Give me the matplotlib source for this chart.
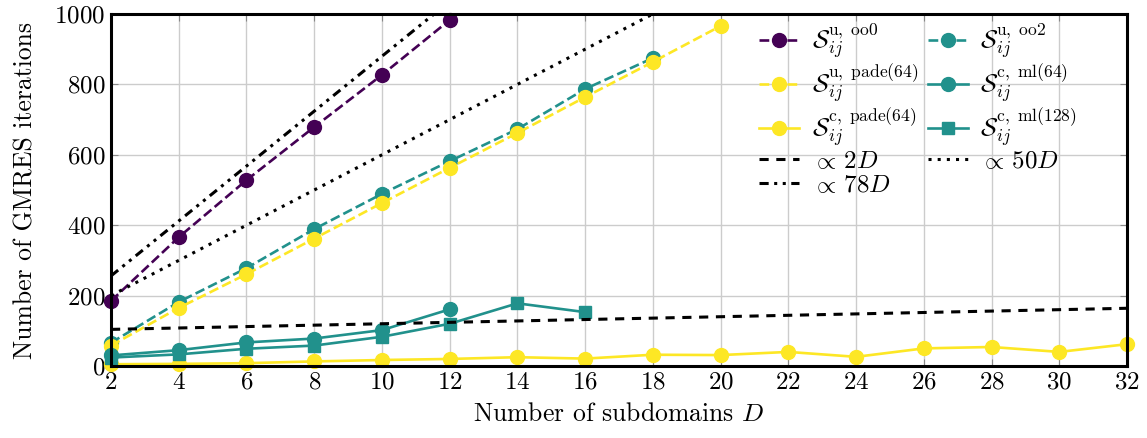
import matplotlib
matplotlib.use("Agg")
import matplotlib.pyplot as plt
import numpy as np

plt.rcParams["font.family"] = "serif"
plt.rcParams["font.serif"] = ["cmr10"]
plt.rcParams["mathtext.fontset"] = "cm"
plt.rcParams["axes.formatter.use_mathtext"] = True

VIRIDIS_0 = "#440154"
VIRIDIS_1 = "#21918c"
VIRIDIS_2 = "#fde725"

# GMRES iteration counts per number of subdomains
d_oo0 = [2, 4, 6, 8, 10, 12]
it_oo0 = [185, 366, 528, 679, 827, 983]

d_oo2 = [2, 4, 6, 8, 10, 12, 14, 16, 18]
it_oo2 = [66, 182, 278, 389, 489, 582, 673, 787, 875]

d_pade_u = [2, 4, 6, 8, 10, 12, 14, 16, 18, 20]
it_pade_u = [58, 165, 261, 362, 463, 563, 662, 764, 864, 966]

d_pade_c = [2, 4, 6, 8, 10, 12, 14, 16, 18, 20, 22, 24, 26, 28, 30, 32]
it_pade_c = [5, 6, 8, 13, 17, 20, 25, 21, 32, 31, 40, 26, 50, 54, 40, 62]

d_ml64 = [2, 4, 6, 8, 10, 12]
it_ml64 = [30, 45, 67, 78, 102, 161]

d_ml128 = [2, 4, 6, 8, 10, 12, 14, 16]
it_ml128 = [24, 33, 49, 58, 83, 120, 178, 153]

# reference growth rates
d_ref = np.linspace(2, 32, 200)
slopes = [2, 50, 78]
offset = 100

fig = plt.figure(figsize=(11.47, 4.38), dpi=100)
ax = fig.add_axes([0.0968, 0.1644, 0.8858, 0.8036])

lw = 1.9
ms = 10
h_oo0, = ax.plot(d_oo0, it_oo0, "--o", color=VIRIDIS_0, lw=lw, ms=ms, clip_on=False,
                 label=r"$\mathcal{S}_{ij}^{\mathrm{u,\ oo0}}$")
h_oo2, = ax.plot(d_oo2, it_oo2, "--o", color=VIRIDIS_1, lw=lw, ms=ms, clip_on=False,
                 label=r"$\mathcal{S}_{ij}^{\mathrm{u,\ oo2}}$")
h_pu, = ax.plot(d_pade_u, it_pade_u, "--o", color=VIRIDIS_2, lw=lw, ms=ms, clip_on=False,
                label=r"$\mathcal{S}_{ij}^{\mathrm{u,\ pade(64)}}$")
h_ml64, = ax.plot(d_ml64, it_ml64, "-o", color=VIRIDIS_1, lw=lw, ms=ms, clip_on=False,
                  label=r"$\mathcal{S}_{ij}^{\mathrm{c,\ ml(64)}}$")
h_pc, = ax.plot(d_pade_c, it_pade_c, "-o", color=VIRIDIS_2, lw=lw, ms=ms, clip_on=False,
                label=r"$\mathcal{S}_{ij}^{\mathrm{c,\ pade(64)}}$")
h_ml128, = ax.plot(d_ml128, it_ml128, "-s", color=VIRIDIS_1, lw=lw, ms=ms - 1, clip_on=False,
                   label=r"$\mathcal{S}_{ij}^{\mathrm{c,\ ml(128)}}$")

h_2, = ax.plot(d_ref, slopes[0] * d_ref + offset, color="black", lw=2.2,
               linestyle=(0, (3, 2.5)), label=r"$\propto\,2D$")
h_50, = ax.plot(d_ref, slopes[1] * d_ref + offset, color="black", lw=2.2,
                linestyle=(0, (1, 2)), label=r"$\propto\,50D$")
h_78, = ax.plot(d_ref, slopes[2] * d_ref + offset, color="black", lw=2.2,
                linestyle=(0, (3, 1.8, 1, 1.8, 1, 1.8)), label=r"$\propto\,78D$")

ax.set_xlim(2, 32)
ax.set_ylim(0, 1000)
ax.set_xticks(range(2, 33, 2))
ax.set_yticks(range(0, 1001, 200))
ax.grid(True, color="#cccccc", lw=1)
ax.set_axisbelow(True)
ax.tick_params(direction="in", top=True, right=True, color="#888888",
               labelsize=18, length=5, pad=4)
for s in ax.spines.values():
    s.set_linewidth(2.2)

ax.set_xlabel(r"Number of subdomains $D$", fontsize=18.5, labelpad=6)
ax.set_ylabel("Number of GMRES iterations", fontsize=18.5, labelpad=12)

handles = [h_oo0, h_pu, h_pc, h_2, h_78, h_oo2, h_ml64, h_ml128, h_50]
ax.legend(handles=handles, ncol=2, frameon=False, fontsize=18,
          loc="upper left", bbox_to_anchor=(0.628, 1.005),
          handlelength=1.6, columnspacing=0.4, labelspacing=0.05,
          handletextpad=0.5, borderaxespad=0)

fig.savefig("out.png", dpi=100)
